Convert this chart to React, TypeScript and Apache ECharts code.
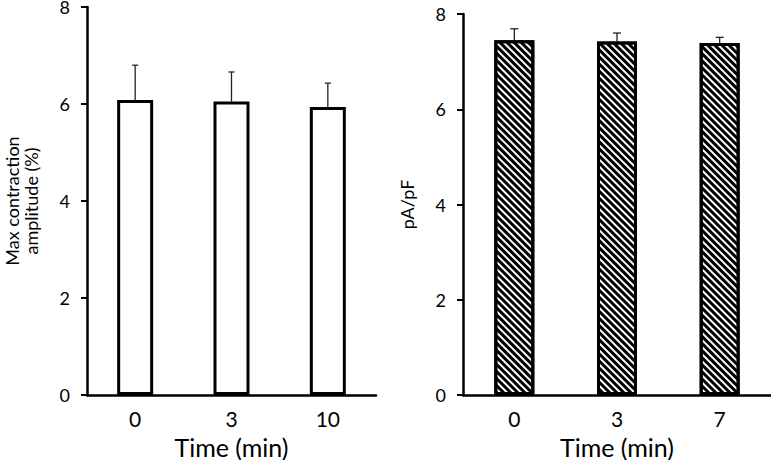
import React, { useEffect, useRef } from "react";
import * as echarts from "echarts";

const leftCategories = ["0", "3", "10"];
const leftMeans = [6.08, 6.05, 5.94];
const leftErrors = [0.72, 0.61, 0.49];

const rightCategories = ["0", "3", "7"];
const rightMeans = [7.45, 7.42, 7.39];
const rightErrors = [0.24, 0.18, 0.12];

const yTicks = { min: 0, max: 8, interval: 2 };
const xTitle = "Time (min)";
const leftYTitle = "Max contraction\namplitude (%)";
const rightYTitle = "pA/pF";

const FONT = "Lato";

function errorSeries(gridIdx: number, means: number[], errs: number[], capW: number) {
  return {
    type: "custom",
    xAxisIndex: gridIdx,
    yAxisIndex: gridIdx,
    z: 1,
    data: means.map((m, i) => [i, m, errs[i]]),
    encode: { x: 0, y: 1 },
    renderItem: (_params: any, api: any) => {
      const x = api.value(0);
      const m = api.value(1);
      const e = api.value(2);
      const p0 = api.coord([x, m]);
      const p1 = api.coord([x, m + e]);
      const style = { stroke: "#222", lineWidth: 1.3 };
      return {
        type: "group",
        children: [
          { type: "line", shape: { x1: p0[0], y1: p0[1], x2: p1[0], y2: p1[1] }, style },
          { type: "line", shape: { x1: p1[0] - capW / 2, y1: p1[1], x2: p1[0] + capW / 2, y2: p1[1] }, style },
        ],
      };
    },
  };
}

export default function App() {
  const ref = useRef<HTMLDivElement>(null);
  useEffect(() => {
    if (!ref.current) return;
    const chart = echarts.init(ref.current, null, { renderer: "svg" });
    const axisLine = { show: true, lineStyle: { color: "#000", width: 2.5 } };
    const yAxisCommon = {
      type: "value",
      min: yTicks.min,
      max: yTicks.max,
      interval: yTicks.interval,
      splitLine: { show: false },
      axisLine,
      axisTick: { show: true, length: 6, lineStyle: { color: "#000", width: 2 } },
      axisLabel: { color: "#000", fontSize: 18, fontFamily: FONT, margin: 17 },
      nameLocation: "middle",
      nameRotate: 90,
      nameTextStyle: { color: "#000", fontSize: 18, fontFamily: FONT, lineHeight: 19 },
    };
    const xAxisCommon = {
      type: "category",
      axisLine,
      axisTick: { show: false },
      axisLabel: { color: "#000", fontSize: 21, fontFamily: FONT, margin: 13 },
      name: xTitle,
      nameLocation: "middle",
      nameGap: 39,
      nameTextStyle: { color: "#000", fontSize: 25, fontFamily: FONT },
    };
    chart.setOption({
      animation: false,
      backgroundColor: "#fff",
      grid: [
        { left: 87, top: 7, width: 289, height: 388, outerBoundsMode: "none" },
        { left: 463, top: 14, width: 308, height: 381, outerBoundsMode: "none" },
      ],
      xAxis: [
        { ...xAxisCommon, gridIndex: 0, data: leftCategories },
        { ...xAxisCommon, gridIndex: 1, data: rightCategories },
      ],
      yAxis: [
        { ...yAxisCommon, gridIndex: 0, name: leftYTitle, nameGap: 47 },
        { ...yAxisCommon, gridIndex: 1, name: rightYTitle, nameGap: 47 },
      ],
      series: [
        {
          type: "bar",
          xAxisIndex: 0,
          yAxisIndex: 0,
          z: 2,
          barWidth: 36,
          data: leftMeans,
          itemStyle: { color: "#fff", borderColor: "#000", borderWidth: 3 },
        },
        errorSeries(0, leftMeans, leftErrors, 6),
        {
          type: "bar",
          xAxisIndex: 1,
          yAxisIndex: 1,
          z: 2,
          barWidth: 40,
          data: rightMeans,
          itemStyle: {
            color: "#fff",
            borderColor: "#000",
            borderWidth: 3,
            decal: {
              symbol: "rect",
              symbolSize: 1,
              dashArrayX: [1, 0],
              dashArrayY: [2.2, 2],
              rotation: Math.PI / 4,
              color: "#000",
              backgroundColor: "#fff",
            },
          },
        },
        errorSeries(1, rightMeans, rightErrors, 8),
      ],
    });
    return () => chart.dispose();
  }, []);
  return (
    <div
      ref={ref}
      style={{ position: "fixed", left: 0, top: 0, width: 771, height: 460 }}
    />
  );
}
